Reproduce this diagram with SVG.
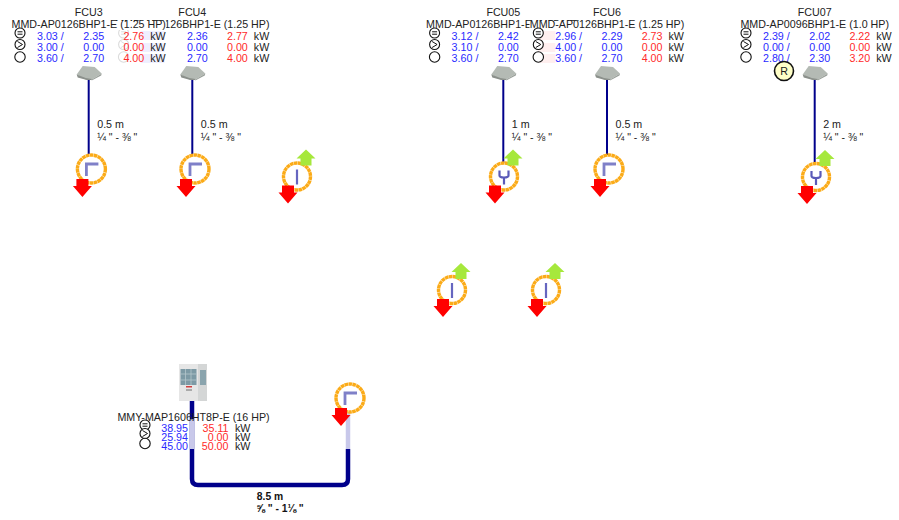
<svg xmlns="http://www.w3.org/2000/svg" width="899" height="520" viewBox="0 0 899 520">
<style>
text{font-family:"Liberation Sans",Arial,sans-serif;font-size:10.7px;fill:#222}
.m{text-anchor:middle}
.b{fill:#2a2aff}
.r{fill:#ff2a2a;text-anchor:end}
.be{fill:#2a2aff;text-anchor:end}
.sm{font-size:10.5px}
.bd{font-weight:bold;font-size:10.3px;fill:#111}
.pipe{fill:none;stroke:#00008b;stroke-width:2}
.thick{fill:none;stroke:#00008b;stroke-width:4.5}
.pale{stroke:#c8c8ea;stroke-width:4.5;fill:none}
.ring{fill:#fff;stroke:#fbab18;stroke-width:3.4;stroke-dasharray:3.6 .4}
.in{fill:none;stroke:#7f80c8;stroke-width:2.8}
.ic{fill:#fff;stroke:#111;stroke-width:1.1}
.ln{fill:none;stroke:#111;stroke-width:1}
</style>
<defs>
<g id="cass">
<path d="M-12 -4.500 L-6 -13 L6 -12 L13 -5.500 L3 0.500 L-3 0.500 Z" fill="#b4bab4"/>
<path d="M-12 -4.500 L-11 -1.500 L-2 1 L3 1 L3 0 L-3 -1 Z" fill="#8b908b"/>
<path d="M3 0.500 L13 -5.500 L12.500 -3.500 L3 1.500 Z" fill="#9aa09a"/>
</g>
<path id="red" d="M-6 0 H6 V7 H9.500 L0 18 L-9.500 7 H-6 Z" fill="#f00"/>
<path id="grn" d="M0 0 L9.500 9 H5.500 V16 H-5.500 V9 H-9.500 Z" fill="#a6e83c"/>
<g id="elbow">
<circle r="14" class="ring"/>
<path d="M-5 7 V-5 H7" class="in"/>
<use href="#red" x="-9" y="10"/>
</g>
<g id="wye">
<circle r="13.500" class="ring"/>
<path d="M0 8 V1 M-4.500 -6 V-1 Q-4.500 1 0 1 Q4.500 1 4.500 -1 V-6" class="in" style="stroke:#5a5ab8;stroke-width:2.200"/>
<use href="#red" x="-9" y="9"/>
<use href="#grn" x="9" y="-27"/>
</g>
<g id="tee">
<circle r="13.500" class="ring"/>
<path d="M0 -7 V8" class="in" style="stroke:#6666c0;stroke-width:2.200"/>
<use href="#red" x="-9" y="9"/>
<use href="#grn" x="9" y="-27"/>
</g>
<g id="ico1"><circle r="5" class="ic"/><path d="M-2.500 -1.200 H2.500 M-2.500 1.200 H2.500" class="ln"/></g>
<g id="ico2"><circle r="5" class="ic"/><path d="M-2.500 -3 L2.500 0 L-2.500 3" class="ln"/></g>
<g id="ico3"><circle r="5.200" class="ic"/></g>
</defs>

<g id="connectors">
<path class="pipe" d="M88.700 79 V154"/>
<path class="pipe" d="M192.300 79 V154"/>
<path class="pipe" d="M503.300 79 V163"/>
<path class="pipe" d="M607 79 V155"/>
<path class="pipe" d="M814.700 79 V163"/>
<path class="thick" d="M192 401 V479 Q192 485 198 485 H342 Q348 485 348 479 V449"/>
<path class="pale" d="M192 419 V449"/>
<path class="pale" d="M348 412 V449"/>
</g>

<g id="FCU4" transform="translate(192.300 0)">
<text class="m" y="16">FCU4</text>
<text class="m" y="28">MMD-AP0126BHP1-E (1.25 HP)</text>
<use href="#ico1" x="-68.700" y="33"/><use href="#ico2" x="-68.700" y="44.500"/><use href="#ico3" x="-68.700" y="57"/>
<rect x="-51.700" y="31" width="24" height="9" fill="#2a2aff" opacity=".5"/>
<rect x="-51.700" y="43" width="24" height="9" fill="#2a2aff" opacity=".5"/>
<rect x="-51.700" y="54" width="24" height="9" fill="#2a2aff" opacity=".5"/>
<text class="b" x="-5.400" y="39.500">2.36</text><text class="r" x="55.500" y="39.500">2.77</text><text x="61.500" y="39.500">kW</text>
<text class="b" x="-5.400" y="51">0.00</text><text class="r" x="55.500" y="51">0.00</text><text x="61.500" y="51">kW</text>
<text class="b" x="-5.400" y="62">2.70</text><text class="r" x="55.500" y="62">4.00</text><text x="61.500" y="62">kW</text>
<use href="#cass" y="79"/>
<use href="#elbow" x="2.700" y="169"/>
<text x="8.500" y="128">0.5 m</text><text class="sm" x="8.500" y="141">¼ " - ⅜ "</text>
</g>

<g id="FCU3" transform="translate(88.700 0)">
<rect x="-77.500" y="21" width="155" height="9" fill="#fff"/>
<rect x="-77.500" y="30" width="155" height="34" fill="#fff" opacity=".85"/>
<text class="m" y="16">FCU3</text>
<text class="m" y="28">MMD-AP0126BHP1-E (1.25 HP)</text>
<use href="#ico1" x="-68.700" y="33"/><use href="#ico2" x="-68.700" y="44.500"/><use href="#ico3" x="-68.700" y="57"/>
<text class="b" x="-51.700" y="39.500">3.03 /</text><text class="b" x="-5.400" y="39.500">2.35</text><text class="r" x="55.500" y="39.500">2.76</text><text x="61.500" y="39.500">kW</text>
<text class="b" x="-51.700" y="51">3.00 /</text><text class="b" x="-5.400" y="51">0.00</text><text class="r" x="55.500" y="51">0.00</text><text x="61.500" y="51">kW</text>
<text class="b" x="-51.700" y="62">3.60 /</text><text class="b" x="-5.400" y="62">2.70</text><text class="r" x="55.500" y="62">4.00</text><text x="61.500" y="62">kW</text>
<use href="#cass" y="79"/>
<use href="#elbow" x="2.700" y="169"/>
<text x="8.500" y="128">0.5 m</text><text class="sm" x="8.500" y="141">¼ " - ⅜ "</text>
</g>

<g id="FCU05" transform="translate(503.300 0)">
<text class="m" y="16">FCU05</text>
<text class="m" y="28">MMD-AP0126BHP1-E (1.25 HP)</text>
<use href="#ico1" x="-68.700" y="33"/><use href="#ico2" x="-68.700" y="44.500"/><use href="#ico3" x="-68.700" y="57"/>
<text class="b" x="-51.700" y="39.500">3.12 /</text><text class="b" x="-5.400" y="39.500">2.42</text>
<text class="b" x="-51.700" y="51">3.10 /</text><text class="b" x="-5.400" y="51">0.00</text>
<text class="b" x="-51.700" y="62">3.60 /</text><text class="b" x="-5.400" y="62">2.70</text>
<rect x="35" y="31" width="17" height="9" fill="#ff2a2a" opacity=".5"/>
<rect x="35" y="43" width="17" height="9" fill="#ff2a2a" opacity=".5"/>
<rect x="35" y="54" width="17" height="9" fill="#ff2a2a" opacity=".5"/>
<use href="#cass" y="79"/>
<use href="#wye" x="0.700" y="176.500"/>
<text x="8.500" y="128">1 m</text><text class="sm" x="8.500" y="141">¼ " - ⅜ "</text>
</g>

<g id="FCU6" transform="translate(607 0)">
<rect x="-77.500" y="21" width="155" height="9" fill="#fff"/>
<rect x="-77.500" y="30" width="155" height="34" fill="#fff" opacity=".85"/>
<text class="m" y="16">FCU6</text>
<text class="m" y="28">MMD-AP0126BHP1-E (1.25 HP)</text>
<use href="#ico1" x="-68.700" y="33"/><use href="#ico2" x="-68.700" y="44.500"/><use href="#ico3" x="-68.700" y="57"/>
<text class="b" x="-51.700" y="39.500">2.96 /</text><text class="b" x="-5.400" y="39.500">2.29</text><text class="r" x="55.500" y="39.500">2.73</text><text x="61.500" y="39.500">kW</text>
<text class="b" x="-51.700" y="51">4.00 /</text><text class="b" x="-5.400" y="51">0.00</text><text class="r" x="55.500" y="51">0.00</text><text x="61.500" y="51">kW</text>
<text class="b" x="-51.700" y="62">3.60 /</text><text class="b" x="-5.400" y="62">2.70</text><text class="r" x="55.500" y="62">4.00</text><text x="61.500" y="62">kW</text>
<use href="#cass" y="79"/>
<use href="#elbow" x="2" y="169"/>
<text x="8.500" y="128">0.5 m</text><text class="sm" x="8.500" y="141">¼ " - ⅜ "</text>
</g>

<g id="FCU07" transform="translate(814.700 0)">
<text class="m" y="16">FCU07</text>
<text class="m" y="28">MMD-AP0096BHP1-E (1.0 HP)</text>
<use href="#ico1" x="-68.700" y="33"/><use href="#ico2" x="-68.700" y="44.500"/><use href="#ico3" x="-68.700" y="57"/>
<text class="b" x="-51.700" y="39.500">2.39 /</text><text class="b" x="-5.400" y="39.500">2.02</text><text class="r" x="55.500" y="39.500">2.22</text><text x="61.500" y="39.500">kW</text>
<text class="b" x="-51.700" y="51">0.00 /</text><text class="b" x="-5.400" y="51">0.00</text><text class="r" x="55.500" y="51">0.00</text><text x="61.500" y="51">kW</text>
<text class="b" x="-51.700" y="62">2.80 /</text><text class="b" x="-5.400" y="62">2.30</text><text class="r" x="55.500" y="62">3.20</text><text x="61.500" y="62">kW</text>
<use href="#cass" y="79"/>
<use href="#wye" x="1.300" y="177"/>
<text x="8.500" y="128">2 m</text><text class="sm" x="8.500" y="141">¼ " - ⅜ "</text>
</g>

<g id="remote">
<circle cx="784" cy="71" r="9.500" fill="#ffffc8" stroke="#111" stroke-width="1.600"/>
<text class="m" x="784" y="75">R</text>
</g>

<g id="branch1"><use href="#tee" x="297" y="176.500"/></g>
<g id="branch2"><use href="#tee" x="452" y="290"/></g>
<g id="branch3"><use href="#tee" x="546" y="290"/></g>
<g id="header"><use href="#elbow" x="350" y="398"/></g>

<g id="outdoor">
<rect x="179" y="364" width="19" height="37" fill="#e6e6e6"/>
<rect x="198" y="364" width="9" height="37" fill="#d4d6d6"/>
<rect x="180.500" y="369" width="16" height="16" fill="#7d9aa5"/>
<path d="M185.500 369 V385 M191 369 V385 M180.500 374 H196.500 M180.500 380 H196.500" stroke="#b4c6cc" stroke-width=".8" fill="none"/>
<rect x="200" y="370" width="6" height="15" fill="#8aa4ad"/>
<rect x="186" y="386" width="6" height="1.500" fill="#d04040"/>
<rect x="186" y="389" width="6" height="2" fill="#aaa"/>
<text class="m" x="193.500" y="421">MMY-MAP1606HT8P-E (16 HP)</text>
<use href="#ico1" x="145" y="425"/><use href="#ico2" x="145" y="433.500"/><use href="#ico3" x="145" y="443.500"/>
<text class="be" x="188" y="431.500">38.95</text><text class="r" x="228.500" y="431.500">35.11</text><text x="235" y="431.500">kW</text>
<text class="be" x="188" y="441">25.94</text><text class="r" x="228.500" y="441">0.00</text><text x="235" y="441">kW</text>
<text class="be" x="188" y="450">45.00</text><text class="r" x="228.500" y="450">50.00</text><text x="235" y="450">kW</text>
<text class="m bd" x="270" y="500">8.5 m</text>
<text class="m bd" x="280" y="512">⅝ " - 1⅛ "</text>
</g>
</svg>
